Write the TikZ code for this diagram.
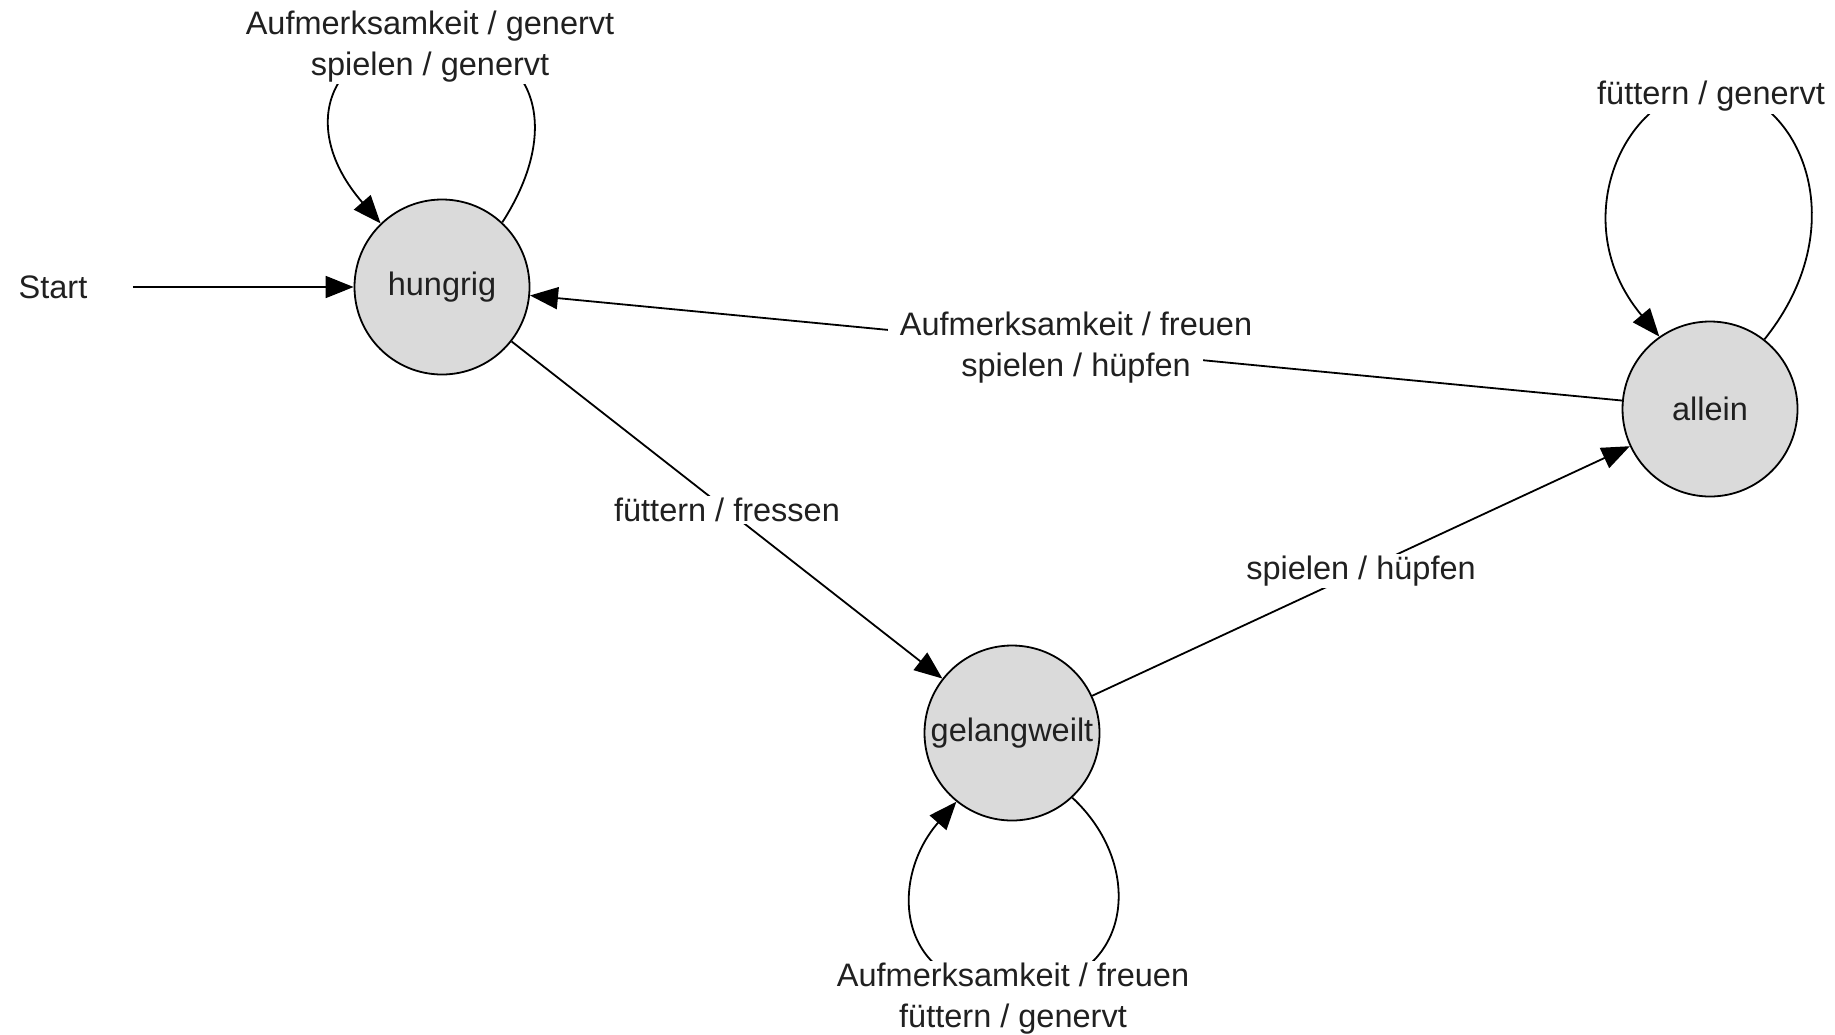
\documentclass[tikz,border=0pt]{standalone}
\usepackage{fontspec}
\setmainfont{Liberation Sans}
\usetikzlibrary{arrows.meta}
\definecolor{stategray}{RGB}{218,218,218}
\definecolor{inktext}{RGB}{32,32,32}
% white backing for a single line of a transition label; the strut makes
% the backings of consecutive lines meet
\newcommand{\lineback}[1]{{\setlength{\fboxsep}{2pt}\colorbox{white}{\hspace{10pt}\rule[-10pt]{0pt}{36pt}#1\hspace{10pt}}}}
\begin{document}
\begin{tikzpicture}[x=1pt,y=-1pt,
  font=\fontsize{32.5pt}{40.5pt}\selectfont,
  state/.style={circle, draw=black, line width=1.8pt, fill=stategray,
    minimum size=175pt, inner sep=0pt, text=inktext},
  lbl/.style={fill=white, inner sep=2pt, align=center, text=inktext},
  linelbl/.style={inner sep=0pt, align=center, text=inktext},
  trans/.style={draw=black, line width=1.8pt,
    -{Triangle[length=28pt,width=22pt]}}]
\useasboundingbox (0,0) rectangle (1835,1034);

% states
\node[state] (hungrig) at (442,287) {hungrig};
\node[state] (allein) at (1710,409) {allein};
\node[state] (gelangweilt) at (1012,733) {gelangweilt};
\node[text=inktext] (start) at (53,287) {Start};

% initial transition
\draw[trans] ([xshift=42pt]start.east) -- (hungrig);

% transitions between states
\draw[trans] (allein) -- node[linelbl]
  {\lineback{Aufmerksamkeit / freuen}\\\lineback{spielen / hüpfen}} (hungrig);
\draw[trans] (hungrig) -- node[lbl] {füttern / fressen} (gelangweilt);
\draw[trans] (gelangweilt) -- node[lbl] {spielen / hüpfen} (allein);

% self loops (their turning points lie beneath the labels)
\coordinate (htop) at (432,40);
\draw[trans] (hungrig.47) .. controls (565,125) and (535,40) .. (htop)
  .. controls (330,40) and (295,125) .. (hungrig.134);
\node[lbl] (hlbl) at (430,46.5) {Aufmerksamkeit / genervt\\spielen / genervt};

\coordinate (atop) at (1711,88);
\draw[trans] (allein.52) .. controls (1860,220) and (1795,88) .. (atop)
  .. controls (1627,88) and (1562,220) .. (allein.125);
\node[lbl] (albl) at (1711,96.5) {füttern / genervt};

\coordinate (gbot) at (1013,990);
\draw[trans] (gelangweilt.-47) .. controls (1150,870) and (1130,990) .. (gbot)
  .. controls (895,990) and (888,880) .. (gelangweilt.-129);
\node[lbl] (glbl) at (1013,998.5) {Aufmerksamkeit / freuen\\füttern / genervt};
\end{tikzpicture}
\end{document}
